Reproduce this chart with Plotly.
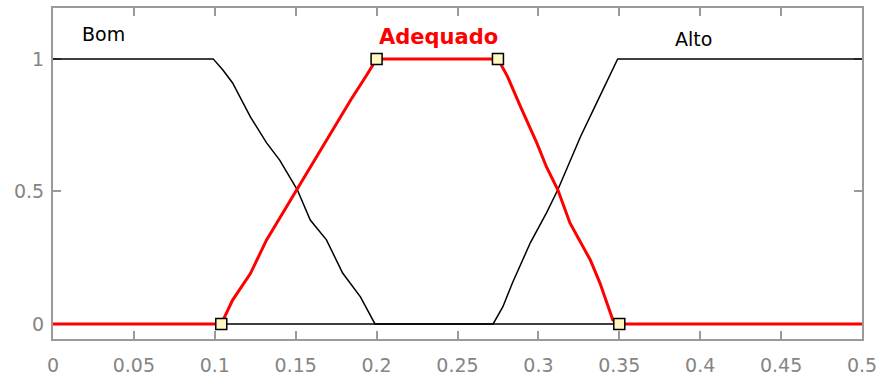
import plotly.graph_objects as go

# Membership function data
bom_x = [0, 0.099, 0.105, 0.111, 0.122, 0.132, 0.140, 0.151, 0.159, 0.169, 0.179, 0.190, 0.199, 0.5]
bom_y = [1, 1, 0.958, 0.909, 0.781, 0.683, 0.619, 0.506, 0.392, 0.317, 0.192, 0.102, 0, 0]

adequado_x = [0, 0.104, 0.111, 0.122, 0.132, 0.142, 0.151, 0.163, 0.173, 0.184, 0.194, 0.2,
              0.275, 0.281, 0.289, 0.299, 0.305, 0.312, 0.3195, 0.332, 0.338, 0.346, 0.35, 0.5]
adequado_y = [0, 0, 0.09, 0.19, 0.317, 0.419, 0.506, 0.630, 0.732, 0.845, 0.94, 1,
              1, 0.932, 0.819, 0.683, 0.592, 0.506, 0.381, 0.242, 0.155, 0.015, 0, 0]

alto_x = [0, 0.272, 0.278, 0.284, 0.295, 0.305, 0.312, 0.326, 0.336, 0.349, 0.5]
alto_y = [0, 0, 0.064, 0.155, 0.306, 0.419, 0.506, 0.706, 0.834, 1, 1]

# Adequado trapezoid parameters (selected MF handles)
adequado_params = [0.104, 0.2, 0.275, 0.35]
adequado_param_y = [0, 1, 1, 0]

labels = ["Bom", "Adequado", "Alto"]
label_x = [0.031, 0.238, 0.396]
label_y = [1.094, 1.083, 1.075]

x_ticks = [0, 0.05, 0.1, 0.15, 0.2, 0.25, 0.3, 0.35, 0.4, 0.45, 0.5]
x_ticktext = ["0", "0.05", "0.1", "0.15", "0.2", "0.25", "0.3", "0.35", "0.4", "0.45", "0.5"]
y_ticks = [0, 0.5, 1]
y_ticktext = ["0", "0.5", "1"]

fig = go.Figure()
fig.add_trace(go.Scatter(x=bom_x, y=bom_y, mode="lines",
                         line=dict(color="black", width=1.5), hoverinfo="skip"))
fig.add_trace(go.Scatter(x=alto_x, y=alto_y, mode="lines",
                         line=dict(color="black", width=1.5), hoverinfo="skip"))
fig.add_trace(go.Scatter(x=adequado_x, y=adequado_y, mode="lines",
                         line=dict(color="#ff0000", width=3), hoverinfo="skip"))
fig.add_trace(go.Scatter(x=adequado_params, y=adequado_param_y, mode="markers",
                         marker=dict(symbol="square", size=11, color="#fff8c0",
                                     line=dict(color="black", width=1.5)),
                         hoverinfo="skip"))

label_styles = [
    dict(color="black", size=19, family="DejaVu Sans"),
    dict(color="#ff0000", size=21, family="DejaVu Sans", weight="bold"),
    dict(color="black", size=19, family="DejaVu Sans"),
]
for t, xx, yy, st in zip(labels, label_x, label_y, label_styles):
    fig.add_annotation(x=xx, y=yy, xref="x", yref="y", text=t, showarrow=False,
                       font=st, xanchor="center", yanchor="middle")

axis_common = dict(showgrid=False, zeroline=False, showline=True, linecolor="#9a9a9a",
                   linewidth=2, mirror="ticks", ticks="inside", tickcolor="#9a9a9a",
                   tickwidth=1.5, ticklen=8, automargin=False, layer="below traces",
                   tickfont=dict(family="DejaVu Sans", size=19, color="#858585"))

fig.update_xaxes(range=[0, 0.5], tickvals=x_ticks, ticktext=x_ticktext,
                 ticklabelstandoff=8, **axis_common)
fig.update_yaxes(range=[-0.057, 1.192], tickvals=y_ticks, ticktext=y_ticktext,
                 ticklabelstandoff=3, **axis_common)

fig.update_layout(width=879, height=376, showlegend=False,
                  margin=dict(l=53, r=17, t=8, b=37),
                  paper_bgcolor="white", plot_bgcolor="white")

fig.write_html("out.html", config={"displayModeBar": False},
               post_script="document.body.style.margin='0px';document.body.style.overflow='hidden';")
